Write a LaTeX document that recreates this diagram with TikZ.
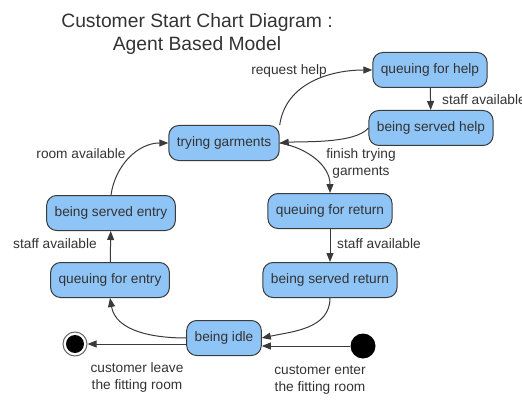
\documentclass[tikz,border=0pt]{standalone}
\usepackage{fontspec}
\setmainfont{Liberation Sans}
\usetikzlibrary{arrows.meta,positioning}
\definecolor{statefill}{HTML}{8FC4F6}
\definecolor{txt}{HTML}{333333}
\definecolor{edgec}{HTML}{3A3A3A}
\tikzset{
  state/.style={draw=edgec, line width=1pt, fill=statefill, rounded corners=10pt,
    minimum height=35pt, inner xsep=8pt, font=\fontsize{13.7}{16}\selectfont, text=txt},
  lbl/.style={font=\fontsize{13.7}{17}\selectfont, text=txt, inner sep=0pt, align=center},
  conn/.style={draw=edgec, line width=1pt, -{Triangle[length=9pt,width=7pt]}}
}
\begin{document}
\begin{tikzpicture}[x=1pt,y=1pt]
\useasboundingbox (0,0) rectangle (522,-409);
\node[font=\fontsize{19.3}{23}\selectfont, text=txt, align=center] (title) at (197,-34) {Customer Start Chart Diagram :\\Agent Based Model};

\node[state] (qh) at (430,-70) {queuing for help};
\node[state] (bh) at (431,-128) {being served help};
\node[state] (tg) at (224,-143) {trying garments};
\node[state] (bse) at (111,-213) {being served entry};
\node[state] (qe) at (110,-280) {queuing for entry};
\node[state] (qr) at (330,-211) {queuing for return};
\node[state] (br) at (330,-280) {being served return};
\node[state] (bi) at (224,-338) {being idle};
\node[circle, draw=black!60, line width=1pt, minimum size=24pt, inner sep=0pt] (fin) at (75,-344) {};
\fill[black] (fin.center) circle (9pt);
\node[circle, fill=black, minimum size=25pt, inner sep=0pt] (init) at (363,-346) {};

\draw[conn] (tg.north east) to[out=82,in=180] (qh.west);
\draw[conn] (qh) -- (bh);
\draw[conn] (bh.west) to[out=230,in=5,looseness=0.6] (tg.east);
\draw[conn] (tg.east) to[out=-10,in=90] (qr.north);
\draw[conn] (qr) -- (br);
\draw[conn] (br.south) to[out=-90,in=12] (bi.east);
\draw[conn] (bi.west) to[out=180,in=-80] (qe.south);
\draw[conn] (qe) -- (bse);
\draw[conn] (bse.north) to[out=82,in=180] (tg.west);
\draw[conn] (fin -| bi.west) -- (fin);
\draw[conn] (init) -- (init -| bi.east);

\node[lbl] (l1) at (289,-71) {request help};
\node[lbl, anchor=west] (l2) at (442,-100) {staff available};
\node[lbl] (l3) at (81,-154) {room available};
\node[lbl] (l4) at (361,-163) {finish trying\\garments};
\node[lbl] (l5) at (55,-244) {staff available};
\node[lbl] (l6) at (379,-244) {staff available};
\node[lbl] (l7) at (137,-377) {customer leave\\the fitting room};
\node[lbl] (l8) at (320,-380) {customer enter\\the fitting room};
\end{tikzpicture}
\end{document}
